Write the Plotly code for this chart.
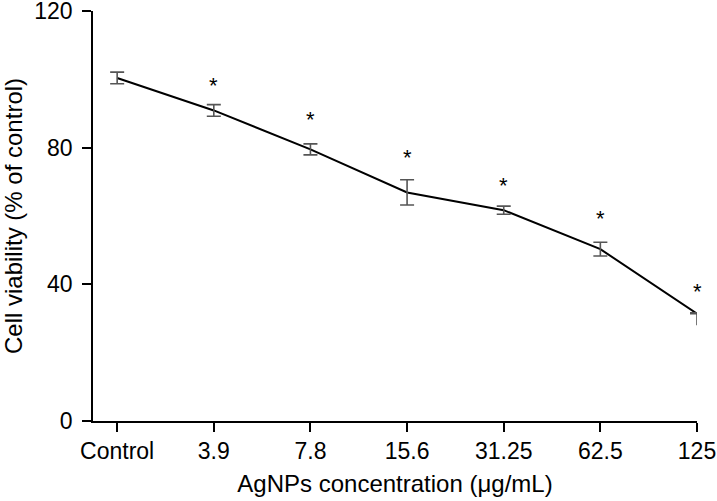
import plotly.graph_objects as go

concentrations = ["Control", "3.9", "7.8", "15.6", "31.25", "62.5", "125"]
viability = [100.4, 90.9, 79.5, 66.9, 61.7, 50.3, 31.4]
err_plus = [1.7, 1.7, 1.6, 3.7, 1.2, 2.0, 0.3]
err_minus = [1.7, 1.7, 1.6, 3.7, 1.2, 2.0, 3.4]

sig_labels = ["3.9", "7.8", "15.6", "31.25", "62.5", "125"]
sig_y = [99.6, 89.7, 78.5, 70.3, 60.7, 39.4]

font = "Liberation Sans, Arial, sans-serif"
err_color = "#555555"

fig = go.Figure()

fig.add_trace(go.Scatter(
    x=concentrations,
    y=viability,
    mode="lines",
    line=dict(color="black", width=2),
    cliponaxis=False,
    showlegend=False,
))

# error bars (last point drawn separately: cap on top only)
fig.add_trace(go.Scatter(
    x=concentrations[:-1],
    y=viability[:-1],
    mode="markers",
    marker=dict(size=0, opacity=0),
    error_y=dict(
        type="data", symmetric=False,
        array=err_plus[:-1], arrayminus=err_minus[:-1],
        color=err_color, thickness=1.6, width=7,
    ),
    cliponaxis=False,
    showlegend=False,
))
fig.add_trace(go.Scatter(
    x=concentrations[-1:],
    y=viability[-1:],
    mode="markers",
    marker=dict(size=0, opacity=0),
    error_y=dict(
        type="data", symmetric=False,
        array=err_plus[-1:], arrayminus=[0],
        color=err_color, thickness=1.6, width=7,
    ),
    cliponaxis=False,
    showlegend=False,
))
fig.add_trace(go.Scatter(
    x=concentrations[-1:],
    y=viability[-1:],
    mode="markers",
    marker=dict(size=0, opacity=0),
    error_y=dict(
        type="data", symmetric=False,
        array=[0], arrayminus=err_minus[-1:],
        color=err_color, thickness=1.6, width=0,
    ),
    cliponaxis=False,
    showlegend=False,
))

# significance asterisks (category axis -> use category index)
for lab, yv in zip(sig_labels, sig_y):
    fig.add_annotation(
        x=concentrations.index(lab), y=yv, text="*", showarrow=False,
        yshift=-5,
        font=dict(family=font, size=22, color="black"),
    )

fig.update_layout(
    width=717, height=501,
    margin=dict(l=93, r=20, t=11, b=80),
    paper_bgcolor="white",
    plot_bgcolor="white",
    font=dict(family=font, size=24, color="black"),
    xaxis=dict(
        type="category",
        categoryorder="array",
        categoryarray=concentrations,
        range=[-0.25, 6],
        automargin=False,
        ticklabeloverflow="allow",
        showline=True, linecolor="black", linewidth=1.5,
        ticks="outside", ticklen=9, tickwidth=1.5, tickcolor="black",
        tickfont=dict(size=23),
        showgrid=False, zeroline=False,
        title=dict(text="AgNPs concentration (μg/mL)", standoff=12, font=dict(size=24)),
    ),
    yaxis=dict(
        range=[0, 120],
        tickvals=[0, 40, 80, 120],
        automargin=False,
        ticklabeloverflow="allow",
        ticklabelstandoff=5,
        showline=True, linecolor="black", linewidth=1.5,
        ticks="outside", ticklen=9, tickwidth=1.5, tickcolor="black",
        tickfont=dict(size=23),
        showgrid=False, zeroline=False,
        title=dict(text="Cell viability (% of control)", standoff=30, font=dict(size=24)),
    ),
)

fig.write_html(
    "out.html",
    config={"displayModeBar": False},
    post_script="document.body.style.margin='0';",
)
